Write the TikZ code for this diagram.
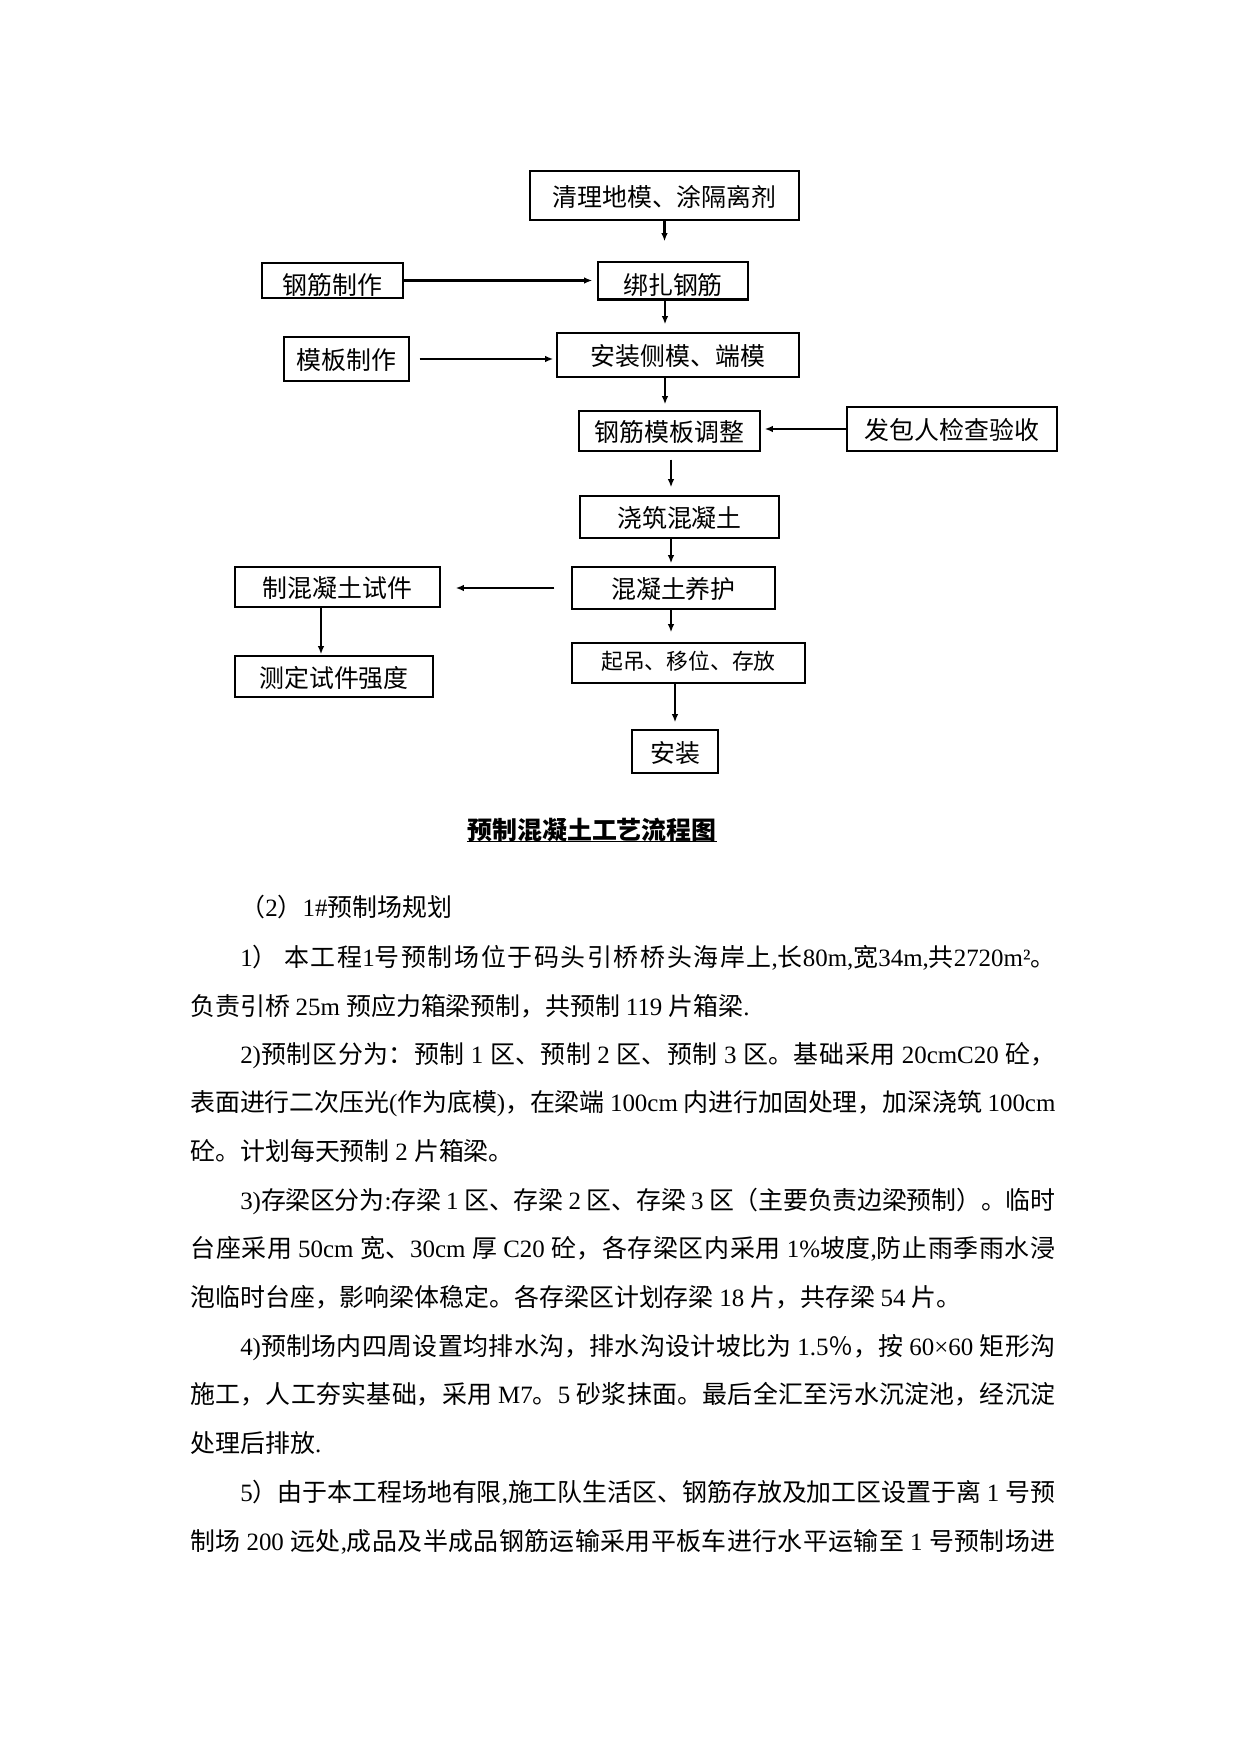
\documentclass[tikz,border=0pt]{standalone}
\usepackage{fontspec}
\setmainfont{Liberation Serif}
\newfontfamily\cjkfont{Noto Sans CJK SC}
\usetikzlibrary{positioning,calc,arrows.meta}

% ideographs and full-width punctuation go to the CJK font
\newcount\cjkcnt
\cjkcnt="3000
\loop
  \XeTeXcharclass\cjkcnt=10\relax
  \ifnum\cjkcnt<"9FFF
  \advance\cjkcnt by 1
\repeat
\cjkcnt="FF00
\loop
  \XeTeXcharclass\cjkcnt=10\relax
  \ifnum\cjkcnt<"FFEF
  \advance\cjkcnt by 1
\repeat
\XeTeXinterchartokenstate=1
\XeTeXinterchartoks 0 10 = {\cjkfont}
\XeTeXinterchartoks 4095 10 = {\cjkfont}
\XeTeXinterchartoks 10 0 = {\rmfamily}
\XeTeXinterchartoks 4095 0 = {\rmfamily}
\XeTeXlinebreaklocale "zh"
\XeTeXlinebreakskip=0pt plus 2pt minus 0.5pt

\newlength\pxunit
\setlength\pxunit{0.169218mm}
\newcommand\sizesi{\fontsize{12pt}{14pt}\selectfont}
\newcommand\sizewu{\fontsize{10.5pt}{12.5pt}\selectfont}

\tikzset{
  flowbox/.style={draw, line width=0.6pt, inner sep=0pt, font=\sizesi,
    text height=1.16em, text depth=0.12em},
  lowtext/.style={text height=1.4em, text depth=0.04em},
  flowarrow/.style={-{Latex[length=1.4mm,width=1.1mm]}, line width=1.1pt},
  fullline/.style={anchor=base west, inner sep=0pt, font=\sizesi,
    text width=865\pxunit, align=justify,
    execute at begin node={\parfillskip=0pt\relax}},
  firstline/.style={fullline,
    execute at begin node={\parfillskip=0pt\relax\leavevmode\hspace*{2em}}},
  lastline/.style={anchor=base west, inner sep=0pt, font=\sizesi},
  headline/.style={lastline, xshift=50\pxunit},
}

\begin{document}
\begin{tikzpicture}[x=\pxunit,y=-\pxunit]
\useasboundingbox (0,0) rectangle (1241,1754);

% flow chart
\node[flowbox, minimum width=269\pxunit, minimum height=49\pxunit] (clean) at (664.5,195.5) {清理地模、涂隔离剂};
\node[flowbox, lowtext, minimum width=141\pxunit, minimum height=35\pxunit] (rebarmake) at (332.5,280.5) {钢筋制作};
\node[flowbox, lowtext, minimum width=150\pxunit, minimum height=37\pxunit] (rebartie) at (673,280.5) {绑扎钢筋};
\draw[line width=1.3pt] (rebartie.south west) -- (rebartie.south east);
\node[flowbox, minimum width=125\pxunit, minimum height=44\pxunit] (formmake) at (346.5,359) {模板制作};
\node[flowbox, minimum width=242\pxunit, minimum height=44\pxunit] (formset) at (678,355) {安装侧模、端模};
\node[flowbox, minimum width=181\pxunit, minimum height=40\pxunit] (adjust) at (669.5,431) {钢筋模板调整};
\node[flowbox, minimum width=210\pxunit, minimum height=44\pxunit] (inspect) at (952,429) {发包人检查验收};
\node[flowbox, minimum width=199\pxunit, minimum height=42\pxunit] (pour) at (679.5,517) {浇筑混凝土};
\node[flowbox, minimum width=203\pxunit, minimum height=42\pxunit] (cure) at (673.5,588) {混凝土养护};
\node[flowbox, minimum width=205\pxunit, minimum height=40\pxunit] (sample) at (337.5,587) {制混凝土试件};
\node[flowbox, minimum width=198\pxunit, minimum height=41\pxunit] (strength) at (334,676.5) {测定试件强度};
\node[flowbox, font=\sizewu, text height=0.7em, text depth=0.12em, minimum width=233\pxunit, minimum height=40\pxunit] (lift) at (688.5,663) {起吊、移位、存放};
\node[flowbox, minimum width=86\pxunit, minimum height=43\pxunit] (install) at (675,751.5) {安装};

\coordinate (trunk) at (665,0);
\coordinate (lowtrunk) at (671,0);
\coordinate (sidetrunk) at (321,0);

\draw[flowarrow, shorten >=20\pxunit] (clean.south) -- (clean.south |- rebartie.north);
\draw[flowarrow, shorten >=5\pxunit] (rebarmake.east) -- (rebartie.west);
\draw[flowarrow, shorten >=8\pxunit] (trunk |- rebartie.south) -- (trunk |- formset.north);
\draw[flowarrow, shorten <=10\pxunit, shorten >=3\pxunit] (formmake.east) -- (formmake.east -| formset.west);
\draw[flowarrow, shorten >=6\pxunit] (trunk |- formset.south) -- (trunk |- adjust.north);
\draw[flowarrow, shorten >=4\pxunit] (inspect.west) -- (inspect.west -| adjust.east);
\draw[flowarrow, shorten <=8\pxunit, shorten >=8\pxunit] (lowtrunk |- adjust.south) -- (lowtrunk |- pour.north);
\draw[flowarrow, shorten >=3\pxunit] (lowtrunk |- pour.south) -- (lowtrunk |- cure.north);
\draw[flowarrow, shorten <=17\pxunit, shorten >=15\pxunit] (cure.west) -- (cure.west -| sample.east);
\draw[flowarrow, shorten >=1\pxunit] (sidetrunk |- sample.south) -- (sidetrunk |- strength.north);
\draw[flowarrow, shorten >=10\pxunit] (lowtrunk |- cure.south) -- (lowtrunk |- lift.north);
\draw[flowarrow, shorten >=7\pxunit] (install.north |- lift.south) -- (install.north);

% caption
\node[font=\sizesi\bfseries, inner sep=0pt] (title) at (592,830) {预制混凝土工艺流程图};
\draw[line width=0.6pt] ([yshift=-2\pxunit]title.base west) -- ([yshift=-2\pxunit]title.base east);

% body text, one node per printed line
\foreach \yy/\kind/\txt [count=\n] in {
  916/headline/{（2）1\#预制场规划},
  966/firstline/{1）\ 本工程1号预制场位于码头引桥桥头海岸上,长80m,宽34m,共2720m²。},
  1015/lastline/{负责引桥 25m 预应力箱梁预制，共预制 119 片箱梁.},
  1063/firstline/{2)预制区分为：预制 1 区、预制 2 区、预制 3 区。基础采用 20cmC20 砼，},
  1111/fullline/{表面进行二次压光(作为底模)，在梁端 100cm 内进行加固处理，加深浇筑 100cm},
  1160/lastline/{砼。计划每天预制 2 片箱梁。},
  1209/firstline/{3)存梁区分为:存梁 1 区、存梁 2 区、存梁 3 区（主要负责边梁预制）。临时},
  1257/fullline/{台座采用 50cm 宽、30cm 厚 C20 砼，各存梁区内采用 1\%坡度,防止雨季雨水浸},
  1306/lastline/{泡临时台座，影响梁体稳定。各存梁区计划存梁 18 片，共存梁 54 片。},
  1355/firstline/{4)预制场内四周设置均排水沟，排水沟设计坡比为 1.5％，按 60×60 矩形沟},
  1403/fullline/{施工，人工夯实基础，采用 M7。5 砂浆抹面。最后全汇至污水沉淀池，经沉淀},
  1452/lastline/{处理后排放.},
  1501/firstline/{5）由于本工程场地有限,施工队生活区、钢筋存放及加工区设置于离 1 号预},
  1550/fullline/{制场 200 远处,成品及半成品钢筋运输采用平板车进行水平运输至 1 号预制场进}}
  \node[\kind] (line\n) at (190,\yy) {\txt};
\end{tikzpicture}
\end{document}
